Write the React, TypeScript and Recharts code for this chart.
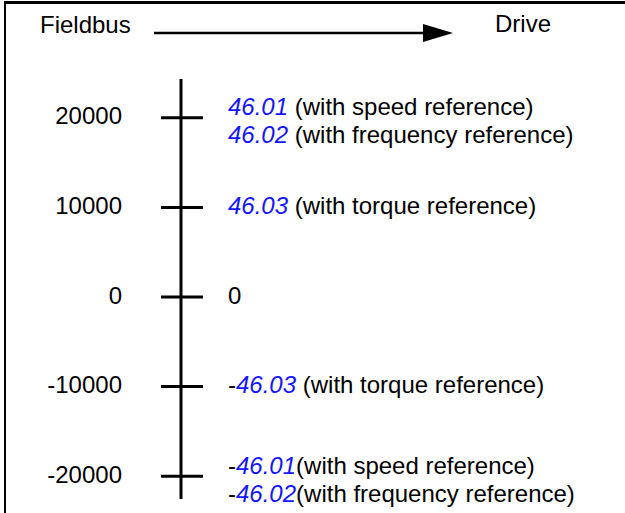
import { ScatterChart, Scatter, XAxis, YAxis } from 'recharts'

// reference levels on the fieldbus side
const levels = [20000, 10000, 0, -10000, -20000]

// what each level means on the drive side (one or two lines per level)
const signs = [
  ['', ''],
  [''],
  [''],
  ['-'],
  ['-', '-'],
]
const codes = [
  ['46.01', '46.02'],
  ['46.03'],
  [''],
  ['46.03'],
  ['46.01', '46.02'],
]
const notes = [
  [' (with speed reference)', ' (with frequency reference)'],
  [' (with torque reference)'],
  ['0'],
  [' (with torque reference)'],
  ['(with speed reference)', '(with frequency reference)'],
]

const FONT = '"Liberation Sans", Arial, sans-serif'
const FS = 24
const BLUE = '#1515ff'

const data = levels.map((v, i) => ({ x: 0, y: v, idx: i }))

function LevelTick(props: any) {
  const { x, y, payload } = props
  return (
    <g>
      <line x1={x - 20} x2={x + 22} y1={y} y2={y} stroke="#000" strokeWidth={3} />
      <text
        x={x - 59}
        y={y - 2}
        dy="0.36em"
        textAnchor="end"
        fontFamily={FONT}
        fontSize={FS}
        fill="#000"
      >
        {payload.value}
      </text>
    </g>
  )
}

function RefLabel(props: any) {
  const { cx, cy, payload } = props
  const i = payload.idx
  const lines = codes[i]
  const offs = lines.length > 1 ? [-11, 17] : [-2]
  return (
    <g>
      {lines.map((code, j) => (
        <text
          key={j}
          x={cx + 47}
          y={cy + offs[j]}
          dy="0.36em"
          fontFamily={FONT}
          fontSize={FS}
          fill="#000"
        >
          {signs[i][j]}
          {code ? (
            <tspan fill={BLUE} fontStyle="italic">
              {code}
            </tspan>
          ) : null}
          {notes[i][j]}
        </text>
      ))}
    </g>
  )
}

export default function App() {
  return (
    <div
      style={{
        position: 'absolute',
        left: 0,
        top: 0,
        width: 625,
        height: 513,
        background: '#fff',
        overflow: 'hidden',
      }}
    >
      <div
        style={{
          position: 'absolute',
          left: 4,
          top: 1,
          width: 640,
          height: 530,
          borderTop: '3px solid #000',
          borderLeft: '2px solid #000',
        }}
      />
      <svg
        width={625}
        height={60}
        style={{ position: 'absolute', left: 0, top: 0 }}
      >
        <text x={40} y={33} fontFamily={FONT} fontSize={FS} fill="#000">
          Fieldbus
        </text>
        <line x1={154} x2={430} y1={33} y2={33} stroke="#000" strokeWidth={2.5} />
        <polygon points="423,24 453,33 423,42" fill="#000" />
        <text x={495} y={32} fontFamily={FONT} fontSize={FS} fill="#000">
          Drive
        </text>
      </svg>
      <div style={{ position: 'absolute', left: 0, top: 0 }}>
        <ScatterChart
          width={625}
          height={513}
          margin={{ top: 79, right: 0, bottom: 14, left: 0 }}
        >
          <XAxis type="number" dataKey="x" domain={[0, 1]} hide />
          <YAxis
            type="number"
            dataKey="y"
            domain={[-22550, 24330]}
            ticks={levels}
            width={181}
            tickLine={false}
            tickSize={0}
            tickMargin={0}
            axisLine={{ stroke: '#000', strokeWidth: 3 }}
            tick={<LevelTick />}
            interval={0}
          />
          <Scatter
            data={data}
            shape={<RefLabel />}
            isAnimationActive={false}
          />
        </ScatterChart>
      </div>
    </div>
  )
}
